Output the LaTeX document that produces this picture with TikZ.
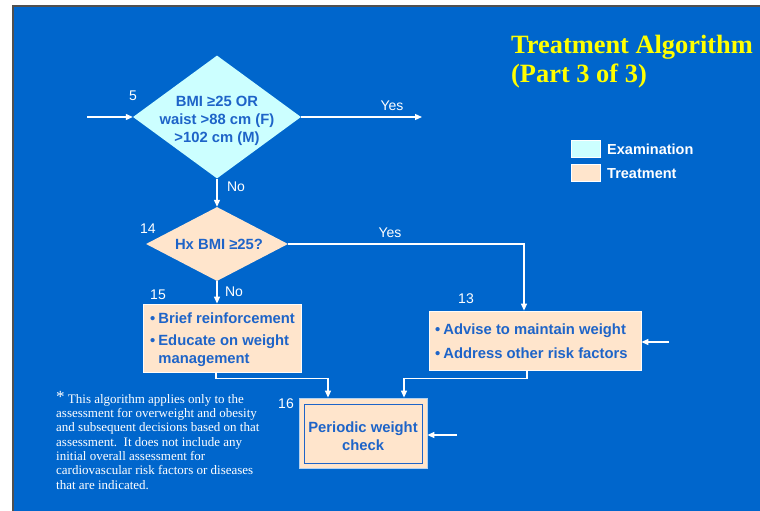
\documentclass[tikz,border=0pt]{standalone}
\usepackage{fontspec}
\setmainfont{Liberation Serif}
\setsansfont{Liberation Sans}
\usetikzlibrary{shapes.geometric,arrows.meta}
\definecolor{slide}{HTML}{0066CC}
\definecolor{exam}{HTML}{CCFFFF}
\definecolor{treat}{HTML}{FFE5CC}
\definecolor{ink}{HTML}{1E64C8}
\definecolor{headline}{HTML}{FFFF00}
\definecolor{frame}{HTML}{505050}
\tikzset{
  arr/.style={draw=white, line width=1.2pt, -{Triangle[length=7pt,width=6pt]}},
  boxtext/.style={font=\sffamily\bfseries\fontsize{14.8}{18}\selectfont, text=ink},
  decision/.style={diamond, inner sep=0pt, draw=none},
  stepbox/.style={rectangle, fill=treat, draw=white!85!treat, line width=0.8pt, inner sep=0pt},
  tag/.style={font=\sffamily\fontsize{14}{16}\selectfont, text=white, inner sep=0pt},
  keybox/.style={rectangle, draw=white, line width=1pt, minimum width=29pt, minimum height=17pt, inner sep=0pt},
  keytext/.style={font=\sffamily\bfseries\fontsize{14.5}{16}\selectfont, text=white, inner sep=0pt, anchor=west}
}
\begin{document}
\begin{tikzpicture}[x=1pt, y=-1pt]
  % page and slide background
  \useasboundingbox (0,0) rectangle (760,511);
  \fill[white] (0,0) rectangle (760,511);
  \fill[slide] (13,6) rectangle (760,511);
  \draw[frame, line width=1.2pt] (13,511) -- (13,6) -- (760,6);

  % title
  \node[anchor=base west, inner sep=0pt, text=headline,
        font=\rmfamily\bfseries\fontsize{26.4}{28}\selectfont] (title1) at (511,54) {Treatment Algorithm};
  \node[anchor=base west, inner sep=0pt, text=headline,
        font=\rmfamily\bfseries\fontsize{26.4}{28}\selectfont] (title2) at (511,82) {(Part 3 of 3)};

  % legend
  \node[keybox, fill=exam] (keyexam) at (585.5,148.5) {};
  \node[keybox, fill=treat] (keytreat) at (585.5,173) {};
  \node[keytext] (keyexamt) at (607,149) {Examination};
  \node[keytext] (keytreatt) at (607,173.5) {Treatment};

  % decision 5
  \node[decision, fill=exam, minimum width=168pt, minimum height=123pt] (q5) at (217,117) {};
  \node[boxtext, align=center, inner sep=0pt] (q5t) at (217,121) {BMI ≥25 OR\\waist >88 cm (F)\\>102 cm (M)};
  \node[tag] (n5) at (133,96) {5};

  % decision 14
  \node[decision, fill=treat, minimum width=142pt, minimum height=74pt] (q14) at (217,244) {};
  \node[boxtext, inner sep=0pt] (q14t) at (219,244) {Hx BMI ≥25?};
  \node[tag] (n14) at (148,229) {14};

  % box 15
  \node[stepbox, minimum width=158pt, minimum height=68pt] (b15) at (222,338) {};
  \node[boxtext, anchor=north west, inner sep=0pt] (b15t) at (150,311)
    {\begin{tabular}{@{}l@{\hspace{3pt}}l@{}}
      • & Brief reinforcement\\[4pt]
      • & Educate on weight\\
        & management
     \end{tabular}};
  \node[tag] (n15) at (158,295) {15};

  % box 13
  \node[stepbox, minimum width=212pt, minimum height=59pt] (b13) at (535,340.5) {};
  \node[boxtext, anchor=north west, inner sep=0pt] (b13t) at (435,322)
    {\begin{tabular}{@{}l@{\hspace{3pt}}l@{}}
      • & Advise to maintain weight\\[6pt]
      • & Address other risk factors
     \end{tabular}};
  \node[tag] (n13) at (466,299) {13};

  % box 16
  \node[stepbox, minimum width=128pt, minimum height=70pt, draw=white!70!slide] (b16) at (363,433) {};
  \draw[ink, line width=0.9pt] (304,404) rectangle (422,463);
  \node[boxtext, align=center, inner sep=0pt] (b16t) at (363,436) {Periodic weight\\check};
  \node[tag] (n16) at (286,404) {16};

  % connectors
  \coordinate (in5) at (87,117);
  \coordinate (out5) at (422,117);
  \draw[arr] (in5) -- (q5.west);
  \draw[arr] (q5.east) -- (out5);
  \node[tag] (yes5) at (392,106) {Yes};

  \draw[arr] (q5.south) -- (q14.north);
  \node[tag] (no5) at (236,187) {No};

  \draw[arr] (q14.east) -| ([xshift=-11pt]b13.north);
  \node[tag] (yes14) at (390,233) {Yes};

  \draw[arr] (q14.south) -- (q14.south |- b15.north);
  \node[tag] (no14) at (234,292) {No};

  \coordinate (in13) at (669,342);
  \draw[arr] (in13) -- (in13 -| b13.east);

  \draw[arr] ([xshift=-6pt]b15.south) -- ++(0,6) -| ([xshift=-35pt]b16.north);
  \draw[arr] ([xshift=-8pt]b13.south) -- ++(0,8) -| ([xshift=41pt]b16.north);

  \coordinate (in16) at (457,435);
  \draw[arr] (in16) -- (in16 -| b16.east);

  % footnote
  \node[anchor=north west, inner sep=0pt, text=white, align=left,
        font=\rmfamily\fontsize{13}{14.3}\selectfont] (note) at (56,391)
    {\raisebox{1pt}{\fontsize{17}{14}\selectfont *}\ This algorithm applies only to the\\
     assessment for overweight and obesity\\
     and subsequent decisions based on that\\
     assessment.\ \ It does not include any\\
     initial overall assessment for\\
     cardiovascular risk factors or diseases\\
     that are indicated.};
\end{tikzpicture}
\end{document}
